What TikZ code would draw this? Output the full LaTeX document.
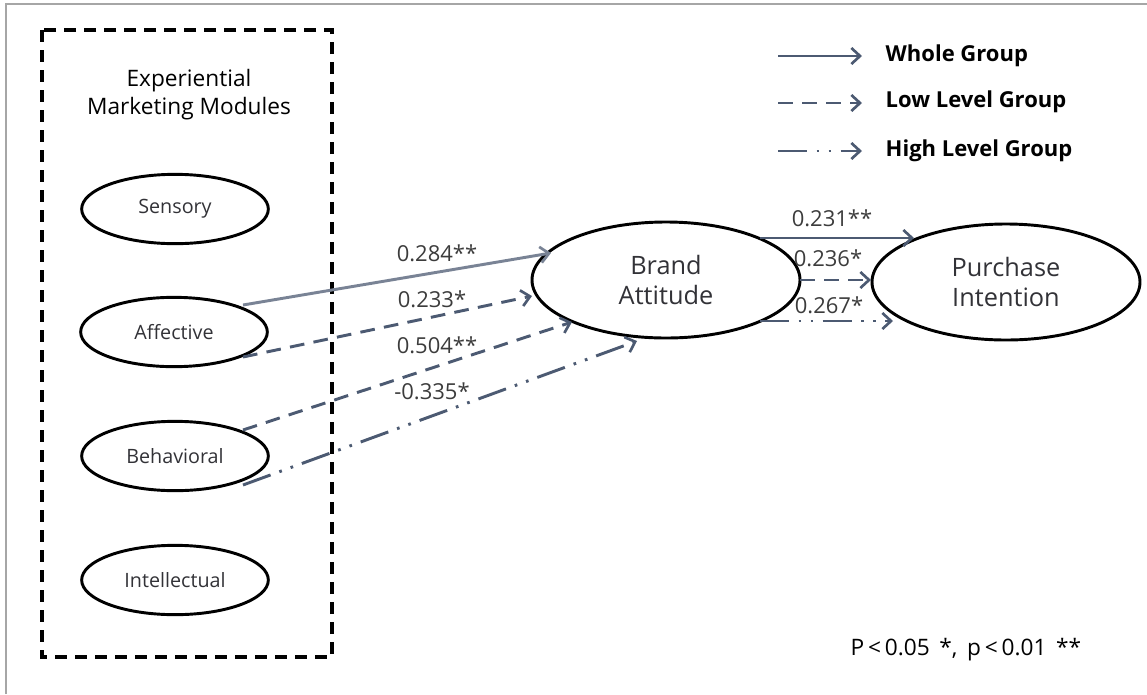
\documentclass[tikz,border=0pt]{standalone}
\usepackage{fontspec}
\setmainfont{Open Sans}
\usetikzlibrary{arrows.meta,shapes.geometric}
\definecolor{arrowc}{RGB}{76,90,114}
\definecolor{labc}{RGB}{50,50,55}
\definecolor{coefc}{RGB}{60,60,60}
\begin{document}
\begin{tikzpicture}[x=0.75pt,y=-0.75pt,
  smallell/.style={draw=black,line width=2.2pt,ellipse,minimum width=140pt,minimum height=52pt,inner sep=0pt,font=\fontsize{14.8}{16}\selectfont,text=labc},
  bigell/.style={draw=black,line width=2.2pt,ellipse,minimum width=201pt,minimum height=87pt,inner sep=0pt,font=\fontsize{19}{23}\selectfont,align=center,text=labc},
  conn/.style={draw=arrowc,line width=2.2pt,-{Straight Barb[length=6.5pt,width=12pt,line width=2pt]}},
  whole/.style={conn},
  low/.style={conn,dash pattern=on 11pt off 7pt},
  high/.style={conn,dash pattern=on 22pt off 7pt on 2pt off 7pt on 2pt off 7pt},
  coef/.style={font=\fontsize{16.5}{18}\selectfont,text=coefc},
  legtext/.style={font=\bfseries\fontsize{16.5}{18}\selectfont,anchor=west}
]
\useasboundingbox (0,0) rectangle (1147,694);
% page frame
\draw[gray!70,line width=0.8pt] (6,694) -- (6,4) -- (1147,4);

% experiential marketing modules box
\draw[black,line width=2.3pt,dash pattern=on 9pt off 6pt] (42,30) rectangle (332,657);
\node[align=center,font=\fontsize{17}{21}\selectfont] (title) at (189,95) {Experiential\\Marketing Modules};

\node[smallell] (sens) at (175,209) {Sensory};
\node[smallell] (aff) at (174,332) {Affective};
\node[smallell] (beh) at (175,456) {Behavioral};
\node[smallell] (int) at (175,580) {Intellectual};

\node[bigell] (ba) at (666,280) {Brand\\Attitude};
\node[bigell] (pi) at (1006,282) {Purchase\\Intention};

% connector end points on the ellipses
\coordinate (a1) at (243,305);
\coordinate (a2) at (243,357);
\coordinate (b1) at (243,430);
\coordinate (b2) at (243,485);
\coordinate (e1) at (551,253);
\coordinate (e2) at (532,296);
\coordinate (e3) at (572,322);
\coordinate (e4) at (637,341);
\coordinate (s1) at (760,238);
\coordinate (t1) at (914,238);
\coordinate (s2) at (800,280);
\coordinate (t2) at (871,280);
\coordinate (s3) at (760,321);
\coordinate (t3) at (893,321);

\draw[whole,draw=arrowc!75] (a1) -- (e1);
\draw[low] (a2) -- (e2);
\draw[low] (b1) -- (e3);
\draw[high] (b2) -- (e4);
\draw[whole] (s1) -- (t1);
\draw[low] (s2) -- (t2);
\draw[high] (s3) -- (t3);

\node[coef] (c1) at (437,253) {0.284**};
\node[coef] (c2) at (432,299) {0.233*};
\node[coef] (c3) at (437,345) {0.504**};
\node[coef] (c4) at (432,391) {-0.335*};
\node[coef] (c5) at (832,218) {0.231**};
\node[coef] (c6) at (828,258) {0.236*};
\node[coef] (c7) at (829,305) {0.267*};

% legend
\coordinate (l1s) at (778,56);  \coordinate (l1e) at (862,56);
\coordinate (l2s) at (778,103); \coordinate (l2e) at (862,103);
\coordinate (l3s) at (778,151); \coordinate (l3e) at (862,151);
\draw[whole] (l1s) -- (l1e);
\draw[low] (l2s) -- (l2e);
\draw[high] (l3s) -- (l3e);
\node[legtext] (lg1) at (881,56) {Whole Group};
\node[legtext] (lg2) at (881,102) {Low Level Group};
\node[legtext] (lg3) at (881,151) {High Level Group};

\node[font=\fontsize{17}{19}\selectfont,anchor=west] (note) at (846,650) {P\,<\,0.05 \,*, \,p\,<\,0.01 \,**};
\end{tikzpicture}
\end{document}
